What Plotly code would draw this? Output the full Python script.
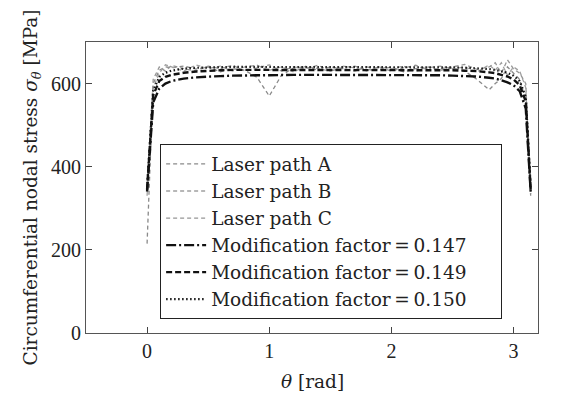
import plotly.graph_objects as go

theta = [0, 0.05, 0.1, 0.15, 0.2, 0.3, 0.4, 0.5, 0.6, 0.7, 0.8, 0.9, 1.0, 1.1, 1.2, 1.3,
         1.4, 1.5, 1.6, 1.7, 1.8, 1.9, 2.0, 2.1, 2.2, 2.3, 2.4, 2.5, 2.6, 2.7, 2.8,
         2.85, 2.9, 2.95, 3.0, 3.05, 3.1, 3.14]

laser_a = [215, 600, 632, 640, 638, 642, 635, 640, 628, 636, 632, 615, 570, 620, 638, 640,
           632, 640, 636, 630, 640, 634, 640, 628, 636, 640, 632, 638, 630, 610, 585,
           600, 612, 640, 625, 610, 560, 330]
laser_b = [330, 590, 625, 645, 640, 630, 645, 636, 642, 630, 640, 644, 632, 640, 628, 642,
           636, 630, 642, 638, 630, 640, 636, 642, 630, 638, 642, 636, 640, 628, 645,
           632, 650, 620, 640, 630, 590, 340]
laser_c = [350, 610, 640, 630, 644, 636, 630, 642, 636, 644, 630, 638, 645, 630, 640, 636,
           644, 630, 638, 642, 632, 640, 630, 638, 644, 632, 636, 640, 646, 634, 640,
           650, 625, 657, 635, 625, 600, 335]
mod_147 = [340, 555, 588, 600, 606, 612, 615, 617, 618, 619, 620, 620, 620, 621, 621, 621,
           621, 621, 621, 621, 621, 621, 621, 621, 621, 620, 620, 619, 618, 617, 614,
           612, 608, 603, 596, 582, 540, 340]
mod_149 = [345, 572, 606, 616, 621, 626, 629, 631, 632, 633, 633, 633, 633, 633, 633, 633,
           633, 633, 633, 633, 633, 633, 633, 633, 633, 633, 633, 632, 631, 630, 627,
           625, 621, 617, 610, 596, 557, 345]
mod_150 = [350, 583, 616, 626, 631, 636, 638, 639, 640, 640, 640, 640, 640, 640, 640, 640,
           640, 640, 640, 640, 640, 640, 640, 640, 640, 640, 640, 639, 638, 637, 635,
           633, 630, 626, 619, 606, 568, 350]

pad = "\u00a0" * 5
series = [
    ("Laser path A", laser_a, dict(color="#8a8a8a", width=1.3, dash="4px,3px")),
    ("Laser path B", laser_b, dict(color="#a0a0a0", width=1.3, dash="4px,3px")),
    ("Laser path C", laser_c, dict(color="#959595", width=1.3, dash="4px,3px")),
    ("Modification factor\u2009=\u20090.147" + pad, mod_147, dict(color="#111111", width=2.4, dash="10px,3px,2px,3px")),
    ("Modification factor\u2009=\u20090.149", mod_149, dict(color="#111111", width=2.4, dash="6px,3px")),
    ("Modification factor\u2009=\u20090.150", mod_150, dict(color="#111111", width=2.2, dash="1.5px,2.5px")),
]

fig = go.Figure()
for name, ys, line in series:
    fig.add_trace(go.Scatter(x=theta, y=ys, mode="lines", name=name, line=line))

serif = "Liberation Serif, DejaVu Serif, serif"
wide = "DejaVu Serif, serif"
fig.update_layout(
    width=568, height=393,
    margin=dict(l=86, r=30, t=42, b=60),
    paper_bgcolor="white", plot_bgcolor="white",
    font=dict(family=serif, size=20, color="#222"),
    legend=dict(x=0.164, y=0.648, xanchor="left", yanchor="top",
                bordercolor="#222", borderwidth=1, bgcolor="white",
                font=dict(size=18.5, family=wide), tracegroupgap=0,
                itemwidth=40),
    showlegend=True,
)
fig.add_annotation(text="<i>\u03b8</i> [rad]", xref="paper", yref="paper", x=0.5, y=-0.165,
                   xanchor="center", yanchor="middle", showarrow=False,
                   font=dict(size=18.5, family=wide, color="#222"))
fig.update_xaxes(range=[-0.5, 3.2], tickvals=[0, 1, 2, 3], ticks="inside", ticklen=6,
                 showline=True, linecolor="#555", linewidth=1, mirror="ticks",
                 showgrid=False, zeroline=False, tickfont=dict(size=20, family=serif))
fig.update_yaxes(range=[0, 700], tickvals=[0, 200, 400, 600], ticks="inside", ticklen=6,
                 showline=True, linecolor="#555", linewidth=1, mirror="ticks",
                 showgrid=False, zeroline=False, tickfont=dict(size=20, family=serif),
                 title=dict(text="Circumferential nodal stress <i>\u03c3</i><sub><i>\u03b8</i></sub> [MPa]",
                            standoff=8, font=dict(size=18.5, family=wide)))
fig.write_html("out.html")
